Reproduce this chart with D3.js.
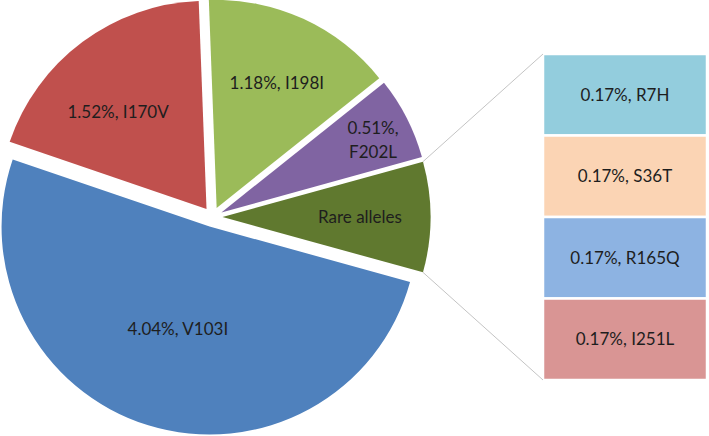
<!DOCTYPE html>
<html>
<head>
<meta charset="utf-8">
<script src="https://cdn.jsdelivr.net/npm/d3@7"></script>
<style>
  html, body { margin: 0; padding: 0; background: #fff; }
  svg { display: block; }
  text { font-family: Lato, "Open Sans", sans-serif; fill: #1e1e1e; }
</style>
</head>
<body>
<svg id="chart" width="709" height="436"></svg>
<script>
// ---- data ----
const mainLabels = ["V103I", "I170V", "I198I", "F202L"];
const mainValues = [4.04, 1.52, 1.18, 0.51];
const otherLabel = "Rare alleles";
const barLabels = ["R7H", "S36T", "R165Q", "I251L"];
const barValues = [0.17, 0.17, 0.17, 0.17];

// ---- styles / layout ----
const pieColors = ["#4F81BD", "#C0504D", "#9BBB59", "#8064A2", "#60792F"];
const barColors = ["#93CDDD", "#FBD4B4", "#8DB3E2", "#D99594"];
const labelRadius = [0.517, 0.631, 0.667, 0.808, 0.661];
const labelAngleNudge = [0, -5.3, 1, 1.4, 0];

const W = 709, H = 436;
const cx = 212.5, cy = 217, R = 208, explode = 10;
const barX0 = 543, barX1 = 707, barY0 = 54, barY1 = 380;
const fontSize = 17;

const svg = d3.select("#chart");

const otherValue = d3.sum(barValues);
const pieData = mainLabels.map((n, i) => ({ name: n, value: mainValues[i], other: false }))
  .concat([{ name: otherLabel, value: otherValue, other: true }]);
const total = d3.sum(pieData, d => d.value);
const start = Math.PI / 2 + (otherValue / total) * Math.PI;

const pie = d3.pie().sort(null).value(d => d.value)
  .startAngle(start).endAngle(start + 2 * Math.PI);
const arcs = pie(pieData);
const arc = d3.arc().innerRadius(0).outerRadius(R);

const dir = a => [Math.sin(a), -Math.cos(a)];

const g = svg.append("g").attr("transform", `translate(${cx},${cy})`);

arcs.forEach((a, i) => {
  const mid = (a.startAngle + a.endAngle) / 2;
  const [dx, dy] = dir(mid);
  a.ox = dx * explode; a.oy = dy * explode; a.mid = mid;
  g.append("path")
    .attr("d", arc(a))
    .attr("transform", `translate(${a.ox},${a.oy})`)
    .attr("fill", pieColors[i]);
});

// labels in pie
arcs.forEach((a, i) => {
  const ang = a.mid + labelAngleNudge[i] * Math.PI / 180;
  const r = explode + labelRadius[i] * R;
  const [dx, dy] = dir(ang);
  const x = dx * r, y = dy * r;
  const d = a.data;
  let lines;
  if (d.other) lines = [d.name];
  else if (i === 3) lines = [d.value.toFixed(2) + "%,", d.name];
  else lines = [d.value.toFixed(2) + "%, " + d.name];
  const lh = 24;
  const t = g.append("text")
    .attr("text-anchor", "middle")
    .attr("font-size", fontSize)
    .attr("x", x)
    .attr("y", y - (lines.length - 1) * lh / 2);
  lines.forEach((ln, k) => {
    t.append("tspan").attr("x", x).attr("dy", k === 0 ? "0.35em" : lh).text(ln);
  });
});

// bar of the "other" slice
const y = d3.scaleLinear().domain([0, otherValue]).range([barY0, barY1]);
let cum = 0;
const stacked = barValues.map((v, i) => {
  const s = { name: barLabels[i], value: v, y0: cum, y1: cum + v };
  cum += v; return s;
});
const bar = svg.append("g");
stacked.forEach((s, i) => {
  bar.append("rect")
    .attr("x", barX0).attr("width", barX1 - barX0)
    .attr("y", y(s.y0)).attr("height", y(s.y1) - y(s.y0))
    .attr("fill", barColors[i])
    .attr("stroke", "#fff").attr("stroke-width", 2.5);
  bar.append("text")
    .attr("x", (barX0 + barX1) / 2)
    .attr("y", (y(s.y0) + y(s.y1)) / 2)
    .attr("dy", "0.35em")
    .attr("text-anchor", "middle")
    .attr("font-size", fontSize)
    .text(s.value.toFixed(2) + "%, " + s.name);
});

// connector lines
const other = arcs[arcs.length - 1];
const [ux, uy] = dir(other.startAngle);
const [lx, ly] = dir(other.endAngle);
svg.append("line")
  .attr("x1", cx + other.ox + ux * R).attr("y1", cy + other.oy + uy * R)
  .attr("x2", barX0).attr("y2", y(0))
  .attr("stroke", "#c4c4c4").attr("stroke-width", 1);
svg.append("line")
  .attr("x1", cx + other.ox + lx * R).attr("y1", cy + other.oy + ly * R)
  .attr("x2", barX0).attr("y2", y(otherValue))
  .attr("stroke", "#c4c4c4").attr("stroke-width", 1);
</script>
</body>
</html>
